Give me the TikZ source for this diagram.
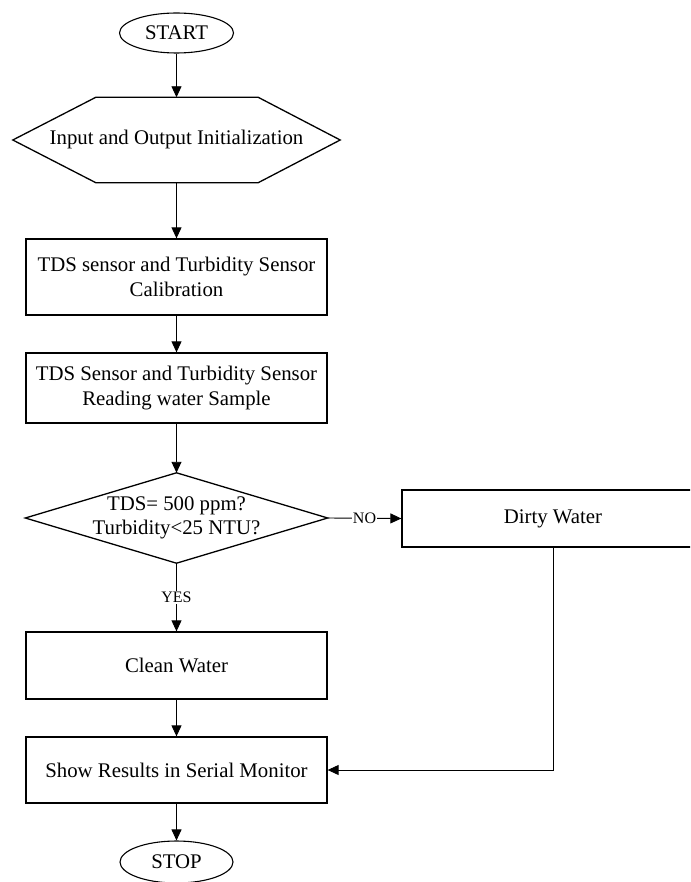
\documentclass[tikz,border=0pt]{standalone}
\usepackage{fontspec}
\setmainfont{Liberation Serif}
\usetikzlibrary{arrows.meta,shapes.geometric,calc}
\begin{document}
\begin{tikzpicture}[x=1pt,y=-1pt,
  every node/.style={font=\fontsize{20.8}{24.5}\selectfont},
  box/.style={draw,line width=1.3pt,rectangle,inner sep=0pt,align=center,minimum width=301pt},
  term/.style={draw,line width=1.1pt,ellipse,inner sep=0pt,minimum width=114pt,minimum height=40pt},
  frame/.style={inner sep=0pt,align=center},
  outline/.style={draw,line width=1.3pt,line join=miter},
  flow/.style={line width=0.9pt,-{Triangle[length=11pt,width=10pt]}},
  lbl/.style={font=\fontsize{16}{18}\selectfont,fill=white,inner sep=1pt}
]
\clip (0,0) rectangle (690,882);

\node[term] (start) at (176.5,33) {START};
\node[frame,minimum width=327pt,minimum height=85pt] (init) at (176.5,140) {Input and Output Initialization};
\draw[outline] (init.west) -- ($(init.north west)+(83,0)$) -- ($(init.north east)+(-82,0)$) -- (init.east) -- ($(init.south east)+(-82,0)$) -- ($(init.south west)+(83,0)$) -- cycle;

\node[box,minimum height=76pt] (cal) at (176.5,277) {TDS sensor and Turbidity Sensor\\Calibration};
\node[box,minimum height=70pt] (read) at (176.5,388) {TDS Sensor and Turbidity Sensor\\Reading water Sample};

\node[frame,minimum width=302pt,minimum height=90pt] (dec) at (176.5,518) {TDS= 500 ppm?\\Turbidity<25 NTU?};
\draw[outline] (dec.north) -- (dec.east) -- (dec.south) -- (dec.west) -- cycle;

\node[box,minimum width=302pt,minimum height=57pt] (dirty) at (553,518.5) {Dirty Water};
\node[box,minimum height=67pt] (clean) at (176.5,665.5) {Clean Water};
\node[box,minimum height=66pt] (show) at (176.5,770) {Show Results in Serial Monitor};
\node[term,minimum width=113pt,minimum height=42pt] (stop) at (176.5,862) {STOP};

\draw[flow] (start.south) -- (init.north);
\draw[flow] (init.south) -- (cal.north);
\draw[flow] (cal.south) -- (read.north);
\draw[flow] (read.south) -- (dec.north);
\draw[flow] (dec.south) -- node[lbl]{YES} (clean.north);
\draw[flow] (dec.east) -- node[lbl]{NO} (dirty.west);
\draw[flow] (clean.south) -- (show.north);
\draw[flow] (show.south) -- (stop.north);
\draw[flow] (dirty.south) |- (show.east);
\end{tikzpicture}
\end{document}
